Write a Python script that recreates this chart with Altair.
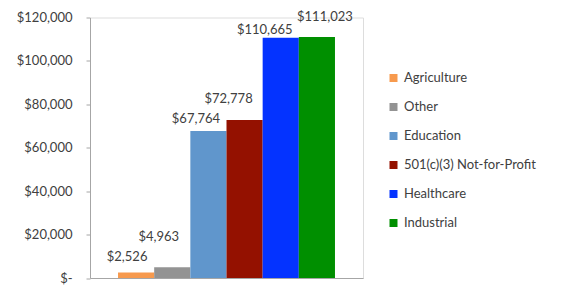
import altair as alt
import pandas as pd

categories = ["Agriculture", "Other", "Education", "501(c)(3) Not-for-Profit", "Healthcare", "Industrial"]
values = [2526, 4963, 67764, 72778, 110665, 111023]
colors = ["#F79A4E", "#939393", "#6096CC", "#941100", "#0433FF", "#008F00"]
y_ticks = [0, 20000, 40000, 60000, 80000, 100000, 120000]

# label offsets (style): dx from bar centre, dy above bar top
label_dx = [-9, -13.5, -12.5, -16, -16, 8]
label_dy = [-12, -26, -8, -17, -4, -16]

df = pd.DataFrame({"category": categories, "value": values})

FONT = "Lato"
TXT = "#404040"

x = alt.X("category:N", sort=categories,
          scale=alt.Scale(paddingInner=0, paddingOuter=0.775),
          axis=alt.Axis(labels=False, ticks=False, title=None,
                        domainColor="#a6a6a6", domainWidth=1))
y = alt.Y("value:Q",
          scale=alt.Scale(domain=[0, 120000], nice=False),
          axis=alt.Axis(values=y_ticks, title=None, grid=False,
                        domainColor="#a6a6a6", tickColor="#a6a6a6", tickSize=4,
                        labelPadding=14, labelFont=FONT, labelFontSize=13,
                        labelColor=TXT,
                        labelExpr="datum.value == 0 ? '$-\u2003' : '$' + format(datum.value, ',')"))

bars = alt.Chart(df).mark_bar().encode(
    x=x, y=y,
    color=alt.Color("category:N", sort=categories,
                    scale=alt.Scale(domain=categories, range=colors),
                    legend=alt.Legend(title=None, orient="none", legendX=297, legendY=54,
                                      symbolType="square", symbolSize=64, symbolStrokeWidth=0,
                                      labelFont=FONT, labelFontSize=13, labelColor=TXT,
                                      rowPadding=15, labelOffset=4, padding=0)),
)

layers = [bars]
for i, c in enumerate(categories):
    t = alt.Chart(df).transform_filter(alt.datum.category == c).transform_calculate(
        label="'$' + format(datum.value, ',')"
    ).mark_text(font=FONT, fontSize=13, color=TXT, baseline="alphabetic",
                align="center", dx=label_dx[i], dy=label_dy[i]).encode(
        x=alt.X("category:N", sort=categories), y="value:Q", text="label:N")
    layers.append(t)

chart = alt.layer(*layers).properties(
    width=273, height=260.5,
    autosize=alt.AutoSizeParams(type="none"),
    padding={"left": 82, "top": 9.5, "right": 192, "bottom": 8},
).configure_view(stroke=None).configure(background="white")

chart.save("out.html", embed_options={"renderer": "svg", "actions": False})
